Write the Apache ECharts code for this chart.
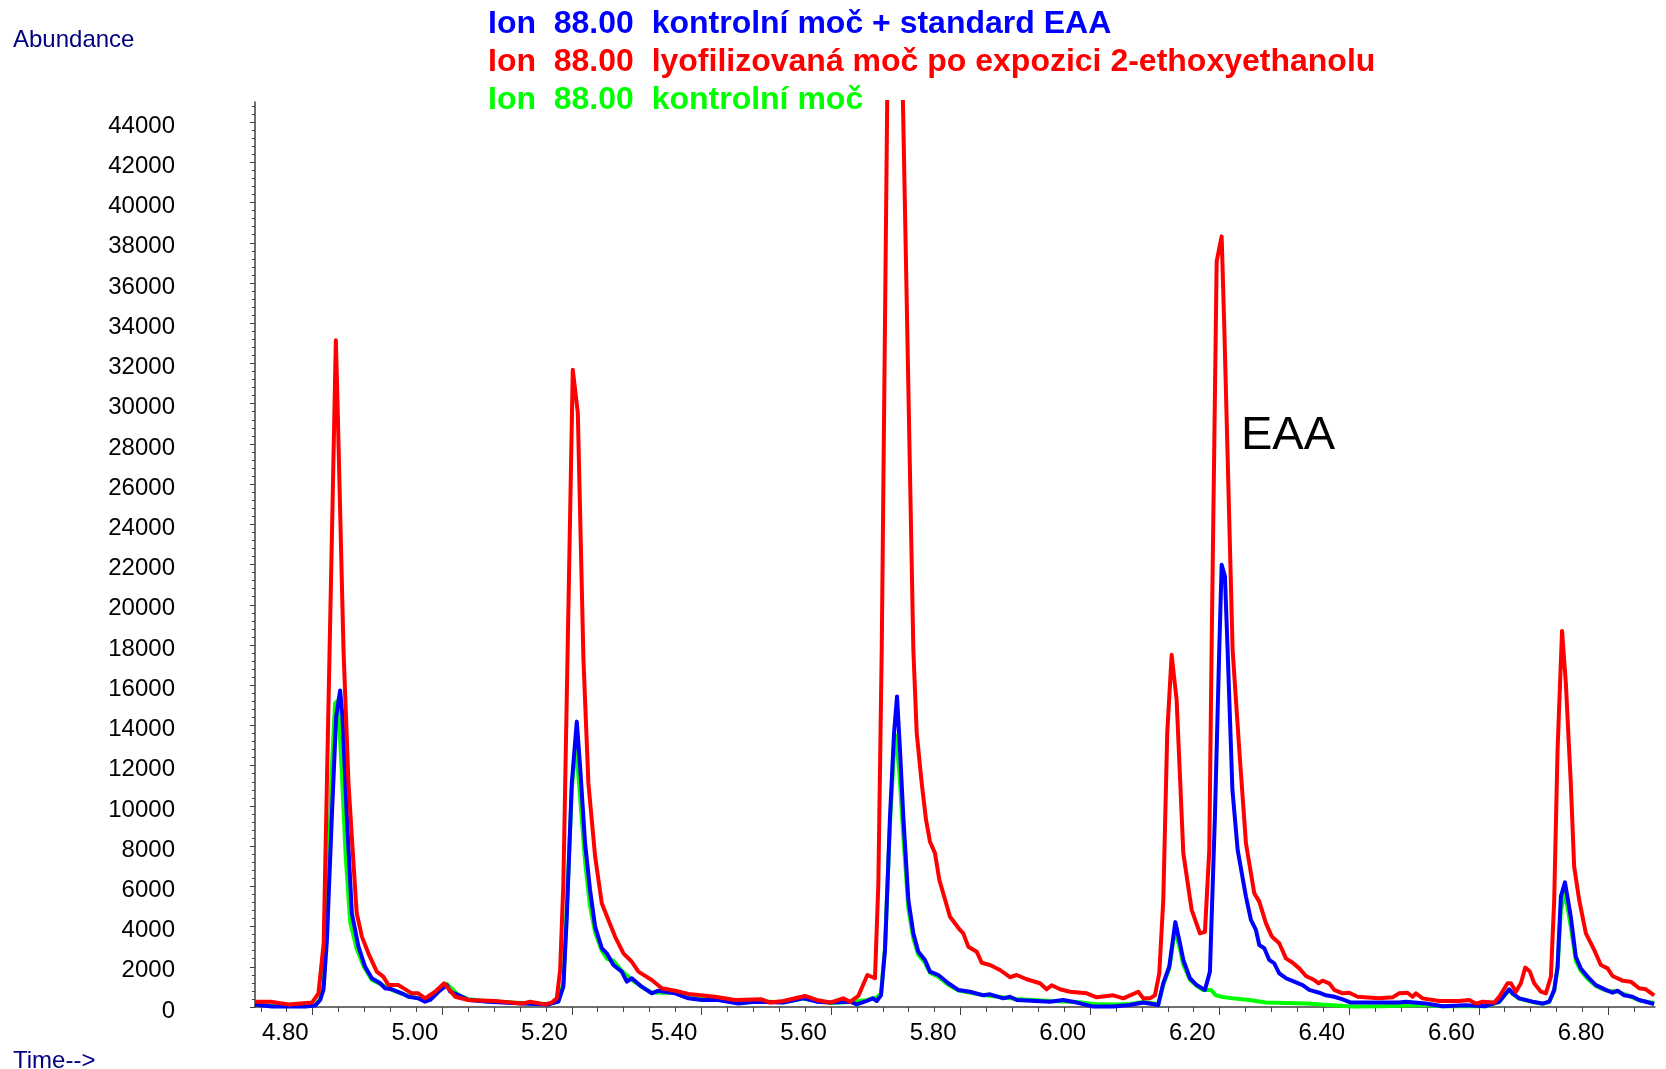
<!DOCTYPE html>
<html>
<head>
<meta charset="utf-8">
<title>Ion 88.00 chromatogram</title>
<script src="https://cdn.jsdelivr.net/npm/echarts@6/dist/echarts.min.js"></script>
<style>
  html, body { margin: 0; padding: 0; background: #fff; }
  #chart { width: 1666px; height: 1069px; }
</style>
</head>
<body>
<div id="chart"></div>
<script>
// retention time (min) / abundance
var redTime = [4.711, 4.735, 4.763, 4.799, 4.809, 4.817, 4.822, 4.8358, 4.8385, 4.8476, 4.8553, 4.863, 4.868, 4.876, 4.886, 4.899, 4.909, 4.917, 4.9325, 4.953, 4.963, 4.9736, 4.989, 5.003, 5.02, 5.0405, 5.0816, 5.1228, 5.1356, 5.1588, 5.169, 5.1769, 5.182, 5.187, 5.2015, 5.2093, 5.218, 5.2256, 5.236, 5.2463, 5.2565, 5.2668, 5.2797, 5.2926, 5.3028, 5.3234, 5.3389, 5.3594, 5.38, 5.4211, 5.452, 5.493, 5.506, 5.5266, 5.56, 5.578, 5.5986, 5.619, 5.6295, 5.6423, 5.6562, 5.668, 5.6732, 5.6784, 5.689, 5.695, 5.701, 5.707, 5.7272, 5.7324, 5.7401, 5.7468, 5.7529, 5.7606, 5.7673, 5.7838, 5.7992, 5.8043, 5.812, 5.825, 5.8327, 5.8455, 5.861, 5.8764, 5.8867, 5.9022, 5.9227, 5.933, 5.9407, 5.9536, 5.969, 5.9948, 6.0102, 6.0358, 6.0513, 6.0744, 6.0821, 6.0924, 6.1001, 6.1068, 6.113, 6.1191, 6.1259, 6.1336, 6.1439, 6.1568, 6.1696, 6.1773, 6.184, 6.1876, 6.1954, 6.2031, 6.207, 6.22, 6.2303, 6.2406, 6.2534, 6.2612, 6.2715, 6.2807, 6.292, 6.3023, 6.3127, 6.3229, 6.3332, 6.346, 6.3528, 6.359, 6.3692, 6.3769, 6.3898, 6.4, 6.413, 6.4463, 6.467, 6.4772, 6.49, 6.4978, 6.503, 6.5133, 6.5389, 6.5698, 6.5852, 6.5955, 6.6059, 6.6238, 6.6315, 6.6444, 6.6496, 6.6573, 6.665, 6.6717, 6.6789, 6.6855, 6.6959, 6.7036, 6.7113, 6.7164, 6.7216, 6.7285, 6.7344, 6.742, 6.7472, 6.755, 6.7653, 6.7781, 6.7884, 6.7988, 6.8065, 6.8219, 6.8347, 6.8476, 6.8579, 6.8707];
var redAbund = [265, 260, 130, 220, 680, 3170, 11130, 33150, 29900, 17760, 11130, 7150, 4660, 3500, 2670, 1760, 1510, 1090, 1090, 680, 680, 430, 760, 1180, 510, 350, 300, 170, 260, 130, 220, 430, 1840, 6150, 31690, 29540, 17260, 11130, 7480, 5160, 4330, 3500, 2670, 2250, 1760, 1340, 930, 810, 650, 510, 350, 380, 220, 300, 550, 350, 220, 430, 260, 550, 1590, 1430, 6150, 17760, 52000, 68000, 62000, 52000, 17760, 13620, 11130, 9300, 8220, 7650, 6320, 4490, 3830, 3660, 3000, 2750, 2200, 2090, 1840, 1480, 1590, 1380, 1180, 880, 1080, 880, 760, 680, 480, 580, 430, 760, 430, 430, 580, 1670, 5320, 13620, 17510, 15270, 7650, 4830, 3660, 3740, 7810, 17760, 37080, 38320, 34000, 17760, 12790, 8140, 5660, 5240, 4160, 3500, 3170, 2420, 2200, 1920, 1540, 1340, 1180, 1310, 1180, 850, 680, 710, 510, 430, 480, 680, 710, 510, 680, 430, 300, 300, 350, 170, 260, 220, 510, 1180, 1180, 760, 1180, 1960, 1760, 1180, 760, 680, 1510, 5320, 12790, 18700, 16100, 11130, 6980, 5320, 3660, 2840, 2090, 1920, 1540, 1310, 1260, 930, 880, 580];

var blueTime = [4.711, 4.737, 4.7884, 4.8039, 4.8116, 4.8167, 4.822, 4.8296, 4.8363, 4.8424, 4.846, 4.8528, 4.8605, 4.8707, 4.881, 4.8913, 4.9042, 4.9119, 4.9222, 4.9377, 4.9479, 4.9633, 4.9736, 4.9813, 4.9942, 5.0071, 5.0122, 5.025, 5.0405, 5.0713, 5.1228, 5.1639, 5.1793, 5.187, 5.1923, 5.2, 5.2077, 5.2128, 5.2205, 5.2282, 5.236, 5.2463, 5.254, 5.2642, 5.2771, 5.2849, 5.2926, 5.308, 5.3234, 5.3337, 5.3594, 5.38, 5.4006, 5.4263, 5.4571, 5.4829, 5.5266, 5.5575, 5.578, 5.5986, 5.6295, 5.6398, 5.6552, 5.6645, 5.6707, 5.6773, 5.6835, 5.6912, 5.6974, 5.702, 5.7066, 5.7117, 5.7195, 5.7272, 5.7349, 5.7452, 5.7529, 5.7658, 5.7812, 5.7966, 5.8147, 5.8352, 5.8455, 5.8661, 5.8764, 5.8867, 5.9381, 5.9586, 5.9793, 6.005, 6.0358, 6.0616, 6.0821, 6.1052, 6.113, 6.1222, 6.1316, 6.1387, 6.1439, 6.1542, 6.1645, 6.1773, 6.185, 6.1927, 6.1994, 6.2031, 6.2082, 6.2123, 6.2197, 6.2278, 6.2406, 6.2483, 6.256, 6.2612, 6.2689, 6.2766, 6.2843, 6.292, 6.3023, 6.3151, 6.3281, 6.3383, 6.3537, 6.364, 6.3769, 6.3898, 6.4026, 6.4258, 6.4772, 6.4875, 6.5184, 6.5441, 6.58, 6.6109, 6.6315, 6.6469, 6.6521, 6.6623, 6.683, 6.6984, 6.7087, 6.7164, 6.7216, 6.7267, 6.733, 6.742, 6.7498, 6.7575, 6.7678, 6.7807, 6.7961, 6.8065, 6.8142, 6.8244, 6.8373, 6.8476, 6.8707];
var blueAbund = [120, 20, 20, 70, 350, 850, 3330, 9470, 14440, 15740, 14440, 9470, 4660, 3000, 2000, 1430, 1180, 930, 880, 680, 510, 430, 265, 350, 760, 1090, 760, 590, 350, 265, 170, 130, 265, 1010, 4490, 11130, 14190, 11960, 8140, 5820, 4000, 2920, 2670, 2090, 1760, 1260, 1430, 1010, 680, 810, 680, 430, 350, 350, 170, 265, 220, 430, 265, 220, 265, 130, 300, 430, 300, 580, 2840, 9470, 13620, 15440, 12790, 9470, 5320, 3660, 2750, 2340, 1760, 1590, 1180, 850, 760, 580, 630, 430, 510, 350, 265, 350, 220, 20, 20, 100, 220, 100, 1180, 2000, 4220, 3170, 2340, 1430, 1090, 850, 1760, 9470, 17760, 21990, 21400, 17760, 10800, 7810, 5490, 4330, 3830, 3080, 2920, 2340, 2170, 1670, 1430, 1260, 1090, 850, 710, 580, 510, 380, 220, 220, 220, 265, 170, 40, 90, 40, 265, 880, 680, 430, 265, 170, 265, 850, 2000, 5490, 6200, 4490, 2500, 1920, 1510, 1090, 850, 710, 810, 580, 510, 350, 150];

var greenTime = [4.711, 4.737, 4.7884, 4.8039, 4.8116, 4.8167, 4.822, 4.829, 4.8345, 4.839, 4.8445, 4.851, 4.858, 4.868, 4.879, 4.8913, 4.9042, 4.9222, 4.9377, 4.9633, 4.9736, 4.9942, 5.0071, 5.025, 5.0405, 5.0713, 5.1228, 5.1639, 5.1793, 5.187, 5.1923, 5.2, 5.206, 5.2115, 5.2205, 5.2282, 5.236, 5.2463, 5.2542, 5.2642, 5.2771, 5.2926, 5.308, 5.3234, 5.3594, 5.38, 5.4263, 5.4829, 5.5266, 5.5575, 5.6, 5.6295, 5.6552, 5.6707, 5.6773, 5.6835, 5.691, 5.697, 5.7005, 5.706, 5.7117, 5.7195, 5.7272, 5.7349, 5.7452, 5.7529, 5.7658, 5.7812, 5.7966, 5.8352, 5.8867, 5.9381, 5.9793, 6.005, 6.0358, 6.0616, 6.0821, 6.1052, 6.113, 6.1222, 6.131, 6.1387, 6.1439, 6.1542, 6.1645, 6.1737, 6.1866, 6.1943, 6.2044, 6.22, 6.2457, 6.2715, 6.3332, 6.3743, 6.4052, 6.45, 6.5184, 6.5441, 6.6109, 6.6315, 6.6469, 6.6521, 6.6623, 6.683, 6.6984, 6.7087, 6.7164, 6.7216, 6.7267, 6.733, 6.742, 6.7498, 6.7575, 6.7678, 6.7807, 6.7961, 6.8142, 6.8373, 6.8476, 6.8707];
var greenAbund = [150, 60, 40, 90, 400, 1100, 4000, 11500, 15100, 15250, 12000, 7500, 4200, 2900, 2000, 1350, 1150, 850, 650, 430, 300, 800, 1150, 600, 380, 280, 200, 150, 300, 1200, 5000, 10800, 13100, 11000, 7200, 5000, 3700, 2800, 2400, 2300, 1800, 1350, 1000, 720, 700, 450, 370, 280, 240, 420, 200, 250, 350, 480, 650, 3000, 9000, 12500, 13500, 11500, 8500, 4900, 3400, 2600, 2200, 1700, 1500, 1100, 820, 600, 400, 300, 250, 150, 120, 150, 250, 150, 1100, 1900, 3850, 2900, 2100, 1350, 1050, 850, 850, 580, 500, 430, 350, 220, 170, 90, 20, 40, 100, 40, 40, 250, 850, 650, 420, 250, 160, 250, 800, 1900, 4800, 5700, 4000, 2300, 1800, 1400, 1050, 820, 760, 480, 330, 200];

var xMajor = [4.8, 5.0, 5.2, 5.4, 5.6, 5.8, 6.0, 6.2, 6.4, 6.6, 6.8];
var yMajor = [0, 2000, 4000, 6000, 8000, 10000, 12000, 14000, 16000, 18000, 20000, 22000,
  24000, 26000, 28000, 30000, 32000, 34000, 36000, 38000, 40000, 42000, 44000];

var legendLines = [
  { text: 'Ion  88.00  kontrolní moč + standard EAA', color: '#0000ff' },
  { text: 'Ion  88.00  lyofilizovaná moč po expozici 2-ethoxyethanolu', color: '#ff0000' },
  { text: 'Ion  88.00  kontrolní moč', color: '#00ff00' }
];

function zip (t, a) {
  return t.map(function (v, i) { return [v, a[i]]; });
}

// minor tick positions (every 0.04 min, every 400 counts)
var xMinor = [];
for (var i = 0; i < 54; i++) {
  var xv = Math.round((4.72 + i * 0.04) * 100) / 100;
  if (Math.round(xv * 100) % 20 !== 0) xMinor.push(xv);
}
var yMinor = [];
for (var k = 0; k <= 44800; k += 400) {
  if (k % 2000 !== 0) yMinor.push(k);
}

var FONT = '"Liberation Sans", Arial, sans-serif';
var X_MIN = 4.711, X_MAX = 6.872;

var chart = echarts.init(document.getElementById('chart'));

var lineSeries = function (name, data, color, z) {
  return {
    name: name,
    type: 'line',
    data: data,
    showSymbol: false,
    symbol: 'none',
    z: z,
    clip: true,
    animation: false,
    lineStyle: { color: color, width: 4, join: 'round' }
  };
};

chart.setOption({
  backgroundColor: '#ffffff',
  animation: false,
  grid: { left: 255, right: 11, top: 102, bottom: 62, containLabel: false },
  xAxis: [
    {
      type: 'value',
      min: X_MIN,
      max: X_MAX,
      splitLine: { show: false },
      axisLine: { onZero: false, lineStyle: { color: '#404040', width: 1.5 } },
      axisTick: { customValues: xMajor, length: 8, lineStyle: { color: '#404040' } },
      axisLabel: {
        customValues: xMajor,
        align: 'right',
        margin: 14,
        padding: [0, 4, 0, 0],
        color: '#000',
        fontSize: 24,
        fontFamily: FONT,
        formatter: function (v) { return v.toFixed(2); }
      }
    },
    {
      type: 'value',
      min: X_MIN,
      max: X_MAX,
      position: 'bottom',
      splitLine: { show: false },
      axisLine: { show: false },
      axisTick: { customValues: xMinor, length: 5, lineStyle: { color: '#404040' } },
      axisLabel: { show: false }
    }
  ],
  yAxis: [
    {
      type: 'value',
      min: 0,
      max: 45000,
      splitLine: { show: false },
      axisLine: { show: true, lineStyle: { color: '#404040', width: 1.5 } },
      axisTick: { show: true, customValues: yMajor, length: 5, lineStyle: { color: '#404040' } },
      axisLabel: {
        customValues: yMajor,
        margin: 80,
        color: '#000',
        fontSize: 24,
        fontFamily: FONT,
        formatter: function (v) { return '{n|' + v + '}'; },
        rich: {
          n: { fontSize: 24, fontFamily: FONT, color: '#000', padding: [8, 0, 0, 0] }
        }
      }
    },
    {
      type: 'value',
      min: 0,
      max: 45000,
      position: 'left',
      splitLine: { show: false },
      axisLine: { show: false },
      axisTick: { show: true, customValues: yMinor, length: 3, lineStyle: { color: '#404040' } },
      axisLabel: { show: false }
    }
  ],
  graphic: [
    { type: 'text', x: 13, y: 40, style: { text: 'Abundance', fill: '#000080', font: '24px ' + FONT, verticalAlign: 'middle' } },
    { type: 'text', x: 13, y: 1061, style: { text: 'Time-->', fill: '#000080', font: '24px ' + FONT, verticalAlign: 'middle' } },
    { type: 'text', x: 1241, y: 436, style: { text: 'EAA', fill: '#000', font: '47px ' + FONT, verticalAlign: 'middle' } }
  ].concat(legendLines.map(function (l, i) {
    return {
      type: 'text', x: 488, y: 24 + i * 38.3,
      style: { text: l.text, fill: l.color, font: 'bold 32px ' + FONT, verticalAlign: 'middle' }
    };
  })),
  series: [
    lineSeries('kontrolní moč', zip(greenTime, greenAbund), '#00ff00', 2),
    lineSeries('kontrolní moč + standard EAA', zip(blueTime, blueAbund), '#0000ff', 3),
    lineSeries('lyofilizovaná moč po expozici 2-ethoxyethanolu', zip(redTime, redAbund), '#ff0000', 4)
  ]
});
</script>
</body>
</html>
